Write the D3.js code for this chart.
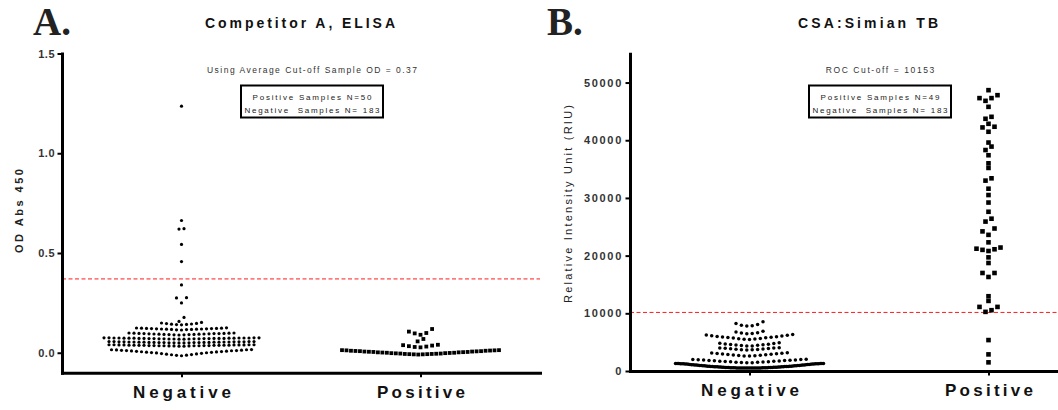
<!DOCTYPE html>
<html>
<head>
<meta charset="utf-8">
<script src="https://cdn.jsdelivr.net/npm/d3@7"></script>
<style>
  body { margin: 0; background: #fff; }
  svg { display: block; font-family: "Liberation Sans", Arial, sans-serif; }
</style>
</head>
<body>
<script>
// ---- data ----
const categories = ["Negative", "Positive"];
const ticksA = [0, 0.5, 1.0, 1.5];
const ticksB = [0, 10000, 20000, 30000, 40000, 50000];
const cutoffA = 0.37;
const cutoffB = 10153;

// each inner array is one row of the swarm (OD Abs 450)
const negA = [
  [1.236],
  [0.663],
  [0.62, 0.622],
  [0.543],
  [0.457],
  [0.34],
  [0.25, 0.275, 0.276],
  [0.157, 0.177],
  [0.14, 0.141, 0.142, 0.143, 0.144, 0.146, 0.147, 0.149, 0.152],
  [0.114, 0.115, 0.116, 0.117, 0.117, 0.118, 0.118, 0.119, 0.119, 0.12, 0.12, 0.121, 0.121, 0.122, 0.122, 0.123, 0.123, 0.124, 0.125],
  [0.089, 0.09, 0.09, 0.091, 0.091, 0.092, 0.092, 0.093, 0.093, 0.094, 0.094, 0.095, 0.095, 0.096, 0.096, 0.096, 0.097, 0.097, 0.098, 0.098, 0.099, 0.099],
  [0.068, 0.068, 0.069, 0.069, 0.069, 0.07, 0.07, 0.07, 0.07, 0.071, 0.071, 0.071, 0.071, 0.072, 0.072, 0.072, 0.072, 0.072,
   0.073, 0.073, 0.073, 0.073, 0.073, 0.074, 0.074, 0.074, 0.074, 0.074, 0.075, 0.075, 0.075, 0.075],
  [0.049, 0.049, 0.05, 0.05, 0.05, 0.051, 0.051, 0.051, 0.051, 0.052, 0.052, 0.052, 0.052, 0.053, 0.053, 0.053, 0.053,
   0.054, 0.054, 0.054, 0.054, 0.055, 0.055, 0.055, 0.055, 0.055, 0.056, 0.056, 0.056, 0.056],
  [0.033, 0.033, 0.034, 0.034, 0.034, 0.035, 0.035, 0.035, 0.035, 0.036, 0.036, 0.036, 0.036, 0.037, 0.037, 0.037, 0.037,
   0.038, 0.038, 0.038, 0.038, 0.039, 0.039, 0.039, 0.039, 0.039, 0.04, 0.04, 0.04, 0.04],
  [-0.015, -0.013, -0.012, -0.01, -0.009, -0.007, -0.006, -0.004, -0.003, -0.001, 0, 0.001, 0.002, 0.003, 0.004,
   0.005, 0.006, 0.007, 0.008, 0.009, 0.01, 0.011, 0.011, 0.012, 0.013, 0.014, 0.015, 0.015, 0.016]
];

const posA = [
  [0.09, 0.097, 0.099, 0.106, 0.119],
  [0.057, 0.069],
  [0.027, 0.029, 0.031, 0.033, 0.036, 0.038, 0.04],
  [-0.009, -0.008, -0.008, -0.007, -0.007, -0.006, -0.006, -0.005, -0.004, -0.004, -0.003, -0.002, -0.002, -0.001, 0, 0,
   0.001, 0.002, 0.002, 0.003, 0.004, 0.004, 0.005, 0.006, 0.006, 0.007, 0.008, 0.008, 0.009, 0.01, 0.01, 0.011, 0.012,
   0.012, 0.013, 0.013]
];

// Relative Intensity Unit (RIU)
const negB = [
  [7780, 7830, 7950, 8060, 8240, 8520],
  [6450, 6500, 6600, 6650, 6780, 6900],
  [5480, 5500, 5550, 5600, 5650, 5700, 5750, 5800, 5850, 5900, 5950, 6000, 6050, 6100, 6200, 6250, 6340],
  [4320, 4350, 4400, 4450, 4500, 4550, 4600, 4650, 4700, 4750, 4820, 4890],
  [3630, 3670, 3700, 3740, 3780, 3820, 3860, 3900, 3940, 3970, 4000, 4030],
  [2590, 2620, 2660, 2700, 2740, 2780, 2820, 2860, 2900, 2940, 2980, 3020, 3060, 3110, 3160],
  [1430, 1450, 1480, 1500, 1530, 1560, 1590, 1620, 1650, 1680, 1710, 1740, 1770, 1800, 1830, 1860, 1890, 1920, 1950, 1980, 2000, 2020],
  [500, 500, 500, 505, 505, 505, 510, 510, 515, 515,
   520, 525, 525, 530, 535, 540, 545, 550, 555, 565,
   565, 575, 575, 585, 590, 600, 600, 610, 620, 625,
   635, 640, 650, 655, 665, 675, 685, 700, 700, 720,
   720, 735, 740, 755, 760, 775, 780, 795, 800, 820,
   820, 840, 845, 865, 870, 890, 895, 910, 920, 935,
   945, 965, 970, 990, 995, 1020, 1020, 1045, 1050, 1075,
   1080, 1105, 1110, 1135, 1140, 1165, 1170, 1200, 1200, 1230,
   1235, 1245, 1250, 1260, 1265, 1270, 1275, 1280, 1285, 1290,
   1295, 1300, 1300]
];

const posB = [
  [48680],
  [46830, 47300, 47300, 47810],
  [45790],
  [43720, 44060],
  [42850],
  [41470, 42220, 42340],
  [39600],
  [38300, 38900],
  [37400],
  [36000],
  [35200],
  [33000, 33400],
  [31600],
  [30500],
  [29200],
  [27600],
  [25900, 26400],
  [23600, 24200, 24700],
  [22300],
  [20800, 21000, 21100, 21200, 21400],
  [19700],
  [18720],
  [16300, 16990, 16990],
  [12960],
  [12150],
  [10250, 10540, 11110, 11110],
  [5360],
  [2880],
  [1500]
];

// ---- drawing ----
const W = 1058, H = 410;
const svg = d3.select("body").append("svg").attr("width", W).attr("height", H);

// prism style rows: lowest value in the middle, then alternate outwards
function swarm(rows, cx, y, step, maxW) {
  const pts = [];
  rows.forEach(row => {
    const vals = row.slice().sort((a, b) => a - b);
    const n = vals.length;
    const s = n > 1 ? Math.min(step, maxW / (n - 1)) : step;
    vals.forEach((v, i) => {
      let k;
      if (n % 2) k = (i % 2 ? -1 : 1) * Math.ceil(i / 2);
      else k = (i % 2 ? 1 : -1) * (Math.floor(i / 2) + 0.5);
      pts.push({x: cx + k * s, y: y(v)});
    });
  });
  return pts;
}

function spaced(sel, size, weight, len) {
  sel.style("font-size", size + "px").style("font-weight", weight)
    .attr("textLength", len).attr("lengthAdjust", "spacing");
  return sel;
}

function panel(p) {
  const g = svg.append("g");
  const x = d3.scalePoint().domain(categories).range([p.x0, p.x1]).padding(0.5);
  const y = d3.scaleLinear().domain(p.domain).range([p.y0, p.y1]);

  g.append("text")
    .attr("x", p.letterX).attr("y", 35)
    .attr("fill", "#222")
    .style("font-family", '"Liberation Serif", "Times New Roman", serif')
    .style("font-weight", "bold").style("font-size", "39px")
    .text(p.letter);

  g.append("text")
    .attr("x", p.titleX - p.titleLen / 2).attr("y", 28)
    .attr("fill", "#111")
    .call(spaced, 14, "bold", p.titleLen)
    .text(p.title);

  // cut-off line
  g.append("line")
    .attr("x1", p.x0).attr("x2", p.x1)
    .attr("y1", y(p.cutoff)).attr("y2", y(p.cutoff))
    .attr("stroke", "#ff1a1a").attr("stroke-width", 1)
    .attr("stroke-dasharray", "4,2.5");

  // axes
  const ya = g.append("g").attr("transform", `translate(${p.x0},0)`)
    .call(d3.axisLeft(y).tickValues(p.ticks).tickFormat(p.fmt)
      .tickSize(4.5).tickSizeOuter(0).tickPadding(2.5));
  ya.select(".domain").attr("stroke-width", 3).attr("stroke-linecap", "square");
  ya.selectAll(".tick line").attr("stroke-width", 2);
  ya.selectAll(".tick text")
    .attr("fill", "#333")
    .style("font-size", "11px").style("font-weight", "bold")
    .style("letter-spacing", p.tickLs + "px")
    .style("font-family", '"Liberation Sans", Arial, sans-serif');

  const xa = g.append("g").attr("transform", `translate(0,${p.y0})`)
    .call(d3.axisBottom(x).tickSize(4.5).tickSizeOuter(0));
  xa.select(".domain").attr("stroke-width", 3).attr("stroke-linecap", "square");
  xa.selectAll(".tick line").attr("stroke-width", 2);
  xa.selectAll(".tick text")
    .attr("y", 25).attr("dy", null)
    .attr("fill", "#111")
    .style("font-family", '"Liberation Sans", Arial, sans-serif')
    .call(spaced, 17, "bold", d => d === "Negative" ? 98 : 88);

  // y title
  g.append("text")
    .attr("transform", `translate(${p.yTitleX},${p.yTitleY}) rotate(-90)`)
    .attr("text-anchor", "middle")
    .attr("fill", "#222")
    .call(spaced, 11, p.yTitleWeight, p.yTitleLen)
    .text(p.yTitle);

  // annotation + box
  g.append("text")
    .attr("x", p.noteX - p.noteLen / 2).attr("y", 72.5)
    .attr("fill", "#333")
    .call(spaced, 8.5, "normal", p.noteLen)
    .text(p.note);

  g.append("rect")
    .attr("x", p.noteX - 71).attr("y", 85.5)
    .attr("width", 142).attr("height", 32)
    .attr("fill", "none").attr("stroke", "#000").attr("stroke-width", 2);

  const nPos = d3.sum(p.pos, r => r.length);
  const nNeg = d3.sum(p.neg, r => r.length);
  const lines = [[`Positive Samples N=${nPos}`, 119, 99.5], [`Negative  Samples N= ${nNeg}`, 135, 112.5]];
  g.selectAll(".boxtxt").data(lines).join("text")
    .attr("class", "boxtxt")
    .attr("x", d => p.noteX - d[1] / 2).attr("y", d => d[2])
    .attr("fill", "#222")
    .style("white-space", "pre")
    .call(spaced, 8, "normal", d => d[1])
    .text(d => d[0]);

  // points
  g.append("g").selectAll("circle")
    .data(swarm(p.neg, x("Negative"), y, p.negStep, p.negMaxW))
    .join("circle")
    .attr("cx", d => d.x).attr("cy", d => d.y).attr("r", p.negR)
    .attr("fill", "#000");

  g.append("g").selectAll("rect")
    .data(swarm(p.pos, x("Positive"), y, p.posStep, p.posMaxW))
    .join("rect")
    .attr("x", d => d.x - p.posS / 2).attr("y", d => d.y - p.posS / 2)
    .attr("width", p.posS).attr("height", p.posS)
    .attr("fill", "#000");
}

panel({
  letter: "A.", letterX: 33,
  title: "Competitor A, ELISA", titleX: 300, titleLen: 190,
  x0: 62, x1: 540, y0: 372.7, y1: 53.5,
  domain: [-0.1, 1.5], ticks: ticksA, fmt: d3.format(".1f"), tickLs: 0.5,
  cutoff: cutoffA,
  yTitle: "OD Abs 450", yTitleX: 23, yTitleY: 211, yTitleLen: 84, yTitleWeight: "bold",
  note: `Using Average Cut-off Sample OD = ${cutoffA}`, noteX: 312, noteLen: 210,
  neg: negA, pos: posA,
  negStep: 5.0, negMaxW: 158, negR: 1.6,
  posStep: 5.8, posMaxW: 157, posS: 3.8
});

panel({
  letter: "B.", letterX: 547,
  title: "CSA:Simian TB", titleX: 868, titleLen: 140,
  x0: 630, x1: 1108, y0: 371, y1: 53.7,
  domain: [0, 55000], ticks: ticksB, fmt: d3.format("d"), tickLs: 1.7,
  cutoff: cutoffB,
  yTitle: "Relative Intensity Unit (RIU)", yTitleX: 572, yTitleY: 204, yTitleLen: 198, yTitleWeight: "normal",
  note: `ROC Cut-off = ${cutoffB}`, noteX: 880, noteLen: 108.5,
  neg: negB, pos: posB,
  negStep: 5.4, negMaxW: 148, negR: 1.75,
  posStep: 6.0, posMaxW: 40, posS: 4.6
});
</script>
</body>
</html>
